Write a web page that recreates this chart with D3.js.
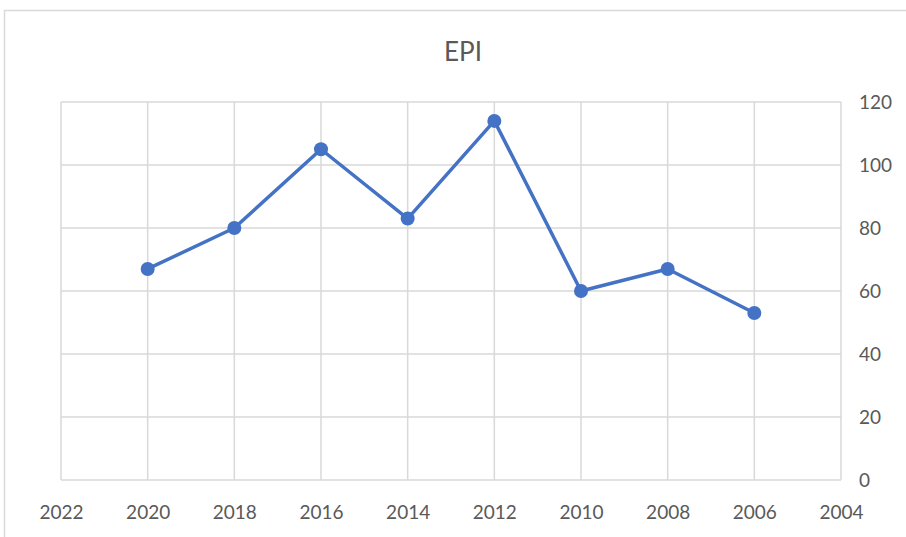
<!DOCTYPE html>
<html>
<head>
<meta charset="utf-8">
<script src="https://cdn.jsdelivr.net/npm/d3@7"></script>
<style>
  body { margin: 0; background: #fff; }
  svg { display: block; }
  text { font-family: Lato, "Open Sans", sans-serif; fill: #595959; }
</style>
</head>
<body>
<svg></svg>
<script>
var years = [2020, 2018, 2016, 2014, 2012, 2010, 2008, 2006];
var epi = [67, 80, 105, 83, 114, 60, 67, 53];
var xTicks = [2022, 2020, 2018, 2016, 2014, 2012, 2010, 2008, 2006, 2004];
var yTicks = [0, 20, 40, 60, 80, 100, 120];

var width = 906, height = 537;
var svg = d3.select('svg').attr('width', width).attr('height', height);

var plotLeft = 61, plotRight = 841, plotTop = 102, plotBottom = 480;

// chart frame (runs off the right and bottom edge)
svg.append('rect')
  .attr('x', 4.5).attr('y', 10.5)
  .attr('width', 920).attr('height', 560)
  .attr('fill', 'none').attr('stroke', '#d9d9d9').attr('stroke-width', 1.5);

var x = d3.scaleLinear().domain([2022, 2004]).range([plotLeft, plotRight]);
var y = d3.scaleLinear().domain([0, 120]).range([plotBottom, plotTop]);

// gridlines
svg.append('g').selectAll('line').data(yTicks).enter().append('line')
  .attr('x1', plotLeft).attr('x2', plotRight)
  .attr('y1', function(d){ return y(d) }).attr('y2', function(d){ return y(d) })
  .attr('stroke', '#d9d9d9').attr('stroke-width', 1.5);

svg.append('g').selectAll('line').data(xTicks).enter().append('line')
  .attr('x1', function(d){ return x(d) }).attr('x2', function(d){ return x(d) })
  .attr('y1', plotTop).attr('y2', plotBottom)
  .attr('stroke', '#d9d9d9').attr('stroke-width', 1.5);

// axis labels
var yAxis = d3.axisRight(y).tickValues(yTicks).tickSize(0).tickPadding(18);
var gy = svg.append('g').attr('transform', 'translate(' + plotRight + ',0)').call(yAxis);
gy.select('.domain').remove();
gy.selectAll('text').style('font-size', '19px').attr('fill', '#595959');

var xAxis = d3.axisBottom(x).tickValues(xTicks).tickFormat(d3.format('d')).tickSize(0).tickPadding(26);
var gx = svg.append('g').attr('transform', 'translate(0,' + plotBottom + ')').call(xAxis);
gx.select('.domain').remove();
gx.selectAll('text').style('font-size', '19px').attr('fill', '#595959');

// title
svg.append('text')
  .attr('x', 463).attr('y', 61)
  .attr('text-anchor', 'middle')
  .style('font-size', '26px')
  .text('EPI');

// line + markers
var pts = years.map(function(d, i){ return [d, epi[i]] });
var line = d3.line().x(function(d){ return x(d[0]) }).y(function(d){ return y(d[1]) });

svg.append('path').datum(pts)
  .attr('d', line)
  .attr('fill', 'none').attr('stroke', '#4472C4')
  .attr('stroke-width', 3.5).attr('stroke-linejoin', 'round');

svg.append('g').selectAll('circle').data(pts).enter().append('circle')
  .attr('cx', function(d){ return x(d[0]) })
  .attr('cy', function(d){ return y(d[1]) })
  .attr('r', 7)
  .attr('fill', '#4472C4');
</script>
</body>
</html>
